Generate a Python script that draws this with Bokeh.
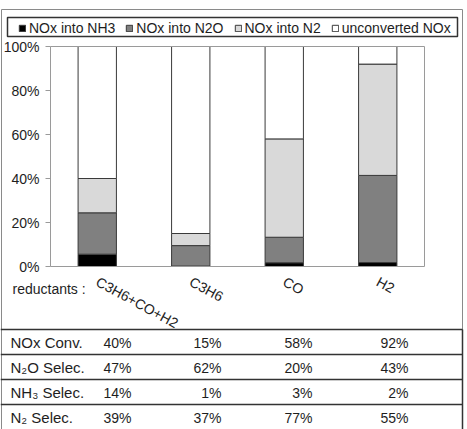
from bokeh.plotting import figure
from bokeh.models import (ColumnDataSource, Range1d, LinearAxis, PrintfTickFormatter,
                          FixedTicker)
from bokeh.core.properties import value
from bokeh.embed import file_html
from bokeh.resources import INLINE

# ---------------- data ----------------
reductants = ["C3H6+CO+H2", "C3H6", "CO", "H2"]
nox_into_nh3 = [5.6, 0.2, 1.7, 1.8]
nox_into_n2o = [18.8, 9.3, 11.6, 39.6]
nox_into_n2 = [15.6, 5.5, 44.7, 50.6]
unconverted_nox = [60.0, 85.0, 42.0, 8.0]
series_names = ["NOx into NH3", "NOx into N2O", "NOx into N2", "unconverted NOx"]
series_colors = ["#000000", "#808080", "#d9d9d9", "#ffffff"]
y_ticks = [0, 20, 40, 60, 80, 100]

row_labels = ["NOx Conv.", "N\u2082O  Selec.", "NH\u2083 Selec.", "N\u2082  Selec."]
nox_conv = ["40%", "15%", "58%", "92%"]
n2o_selec = ["47%", "62%", "20%", "43%"]
nh3_selec = ["14%", "1%", "3%", "2%"]
n2_selec = ["39%", "37%", "77%", "55%"]

# ---------------- layout (pixels) ----------------
W, H = 467, 429
FL, FR, FT, FB = 50, 424, 46, 266          # plot area box
NCAT = len(reductants)
PX_CAT = (FR - FL) / NCAT                  # pixels per category
PX_PCT = (FB - FT) / 100.0                 # pixels per percent
FONT = "Liberation Sans"
TXT = "#1e1e1e"

def X(px):   # pixel -> category coordinate (category i centred on i)
    return (px - FL) / PX_CAT - 0.5

def Y(py):   # pixel -> percent coordinate
    return (FB - py) / PX_PCT

p = figure(width=W, height=H, x_range=Range1d(X(0), X(W)), y_range=Range1d(Y(H), Y(0)),
           output_backend="svg", toolbar_location=None,
           x_axis_location=None, y_axis_location=None,
           min_border=0, min_border_left=0, min_border_right=0,
           min_border_top=0, min_border_bottom=0)
p.background_fill_color = "white"
p.border_fill_color = "white"
p.outline_line_color = None
p.grid.visible = False

src = ColumnDataSource(dict(
    x=list(range(NCAT)),
    nh3=nox_into_nh3,
    n2o=nox_into_n2o,
    n2=nox_into_n2,
    unc=unconverted_nox,
))

p.vbar_stack(["nh3", "n2o", "n2", "unc"], x="x", width=0.41, source=src,
             fill_color=series_colors, line_color="#3a3a3a", line_width=1,
             legend_label=series_names)

# plot-area box (top and right edges)
p.line(x=[-0.5, NCAT - 0.5, NCAT - 0.5], y=[100, 100, 0], line_color="#9a9a9a", line_width=1)

# y axis
ya = LinearAxis(fixed_location=-0.5, bounds=(0, 100),
                ticker=FixedTicker(ticks=y_ticks),
                formatter=PrintfTickFormatter(format="%d%%"))
ya.axis_line_color = "#9a9a9a"
ya.major_tick_line_color = "#9a9a9a"
ya.major_tick_out = 5
ya.major_tick_in = 0
ya.minor_tick_line_color = None
ya.major_label_standoff = 6
ya.major_label_text_font = FONT
ya.major_label_text_font_size = "14px"
ya.major_label_text_color = TXT
p.add_layout(ya, "left")

# x axis
xa = LinearAxis(fixed_location=0, bounds=(-0.5, NCAT - 0.5),
                ticker=FixedTicker(ticks=list(range(NCAT))),
                major_label_overrides={i: r for i, r in enumerate(reductants)})
xa.axis_line_color = "#9a9a9a"
xa.major_tick_line_color = None
xa.minor_tick_line_color = None
xa.major_label_orientation = -0.5
xa.major_label_standoff = 8
xa.major_label_text_font = FONT
xa.major_label_text_font_size = "14px"
xa.major_label_text_color = TXT
p.add_layout(xa, "below")

# legend
lg = p.legend[0]
lg.orientation = "horizontal"
lg.location = (18, 393)
lg.padding = 0
lg.margin = 0
lg.spacing = 10
lg.label_standoff = 3
lg.glyph_width = 8
lg.glyph_height = 8
lg.border_line_alpha = 0
lg.background_fill_alpha = 0
lg.label_text_font = FONT
lg.label_text_font_size = "14px"
lg.label_text_color = TXT

# legend box
p.quad(left=[X(7)], right=[X(457)], top=[Y(17)], bottom=[Y(36)],
       fill_alpha=0, line_color="#333333", line_width=1.5)

# outer border
p.line(x=[X(1), X(1), X(462), X(462)], y=[Y(H + 5), Y(9), Y(9), Y(H + 5)],
       line_color="#8a8a8a", line_width=1)

# table lines
line_y = [329, 354, 379, 404]
p.segment(x0=[X(0)] * 4, x1=[X(462)] * 4, y0=[Y(v) for v in line_y], y1=[Y(v) for v in line_y],
          line_color="#333333", line_width=1.6)
p.segment(x0=[X(462)], x1=[X(462)], y0=[Y(329)], y1=[Y(H + 5)],
          line_color="#333333", line_width=1.5)

# "reductants :"
p.text(x=[X(12)], y=[Y(288)], text=["reductants :"], text_font=value(FONT),
       text_font_size="14px", text_color=TXT, text_align="left", text_baseline="middle")

# table texts
row_y = [342, 367, 392, 417]
col_x = [131, 221, 312, 408]
rows = [nox_conv, n2o_selec, nh3_selec, n2_selec]
p.text(x=[X(10)] * 4, y=[Y(v) for v in row_y], text=row_labels, text_font=value(FONT),
       text_font_size="15px", text_color=TXT, text_align="left", text_baseline="middle")
vx, vy, vt = [], [], []
for i, vals in enumerate(rows):
    for j, v in enumerate(vals):
        vx.append(X(col_x[j]))
        vy.append(Y(row_y[i]))
        vt.append(v)
p.text(x=vx, y=vy, text=vt, text_font=value(FONT), text_font_size="14px",
       text_color=TXT, text_align="right", text_baseline="middle")

open("out.html", "w").write(file_html(p, INLINE))
